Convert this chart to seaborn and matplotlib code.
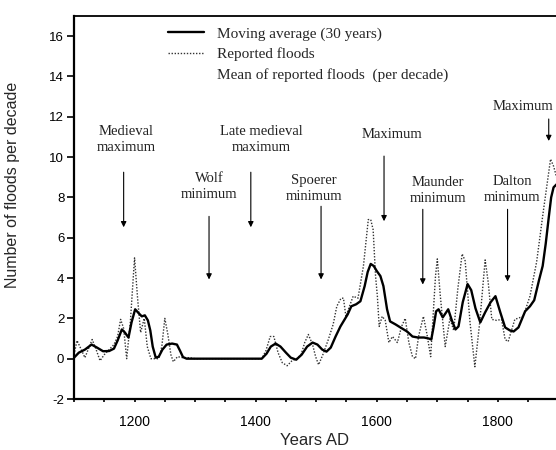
import matplotlib
matplotlib.use("Agg")
import matplotlib.pyplot as plt
from matplotlib.lines import Line2D
from matplotlib.ticker import MultipleLocator
import seaborn as sns

# 30-year moving average of flood counts
ma_years = [1100, 1108, 1118, 1129, 1138, 1148, 1158, 1166, 1172, 1179, 1184, 1190,
            1195, 1201, 1207, 1212, 1217, 1222, 1226, 1230, 1235, 1240, 1246, 1253,
            1262, 1270, 1275, 1280, 1286, 1300, 1350, 1410, 1418, 1425, 1433, 1441,
            1450, 1458, 1467, 1476, 1485, 1494, 1502, 1510, 1517, 1524, 1532, 1540,
            1546, 1552, 1558, 1566, 1573, 1580, 1585, 1590, 1595, 1600, 1606, 1611,
            1617, 1622, 1631, 1639, 1650, 1659, 1668, 1678, 1686, 1690, 1694, 1698,
            1702, 1709, 1718, 1724, 1730, 1735, 1742, 1750, 1756, 1763, 1771, 1779,
            1788, 1796, 1804, 1812, 1820, 1826, 1834, 1845, 1853, 1860, 1868, 1874,
            1879, 1884, 1888, 1892, 1897]
ma_values = [0.05, 0.3, 0.45, 0.7, 0.55, 0.37, 0.38, 0.5, 0.9, 1.45, 1.3, 1.05,
             1.8, 2.45, 2.25, 2.1, 2.15, 1.9, 1.4, 0.6, 0.05, 0.1, 0.45, 0.7,
             0.75, 0.7, 0.4, 0.08, 0.0, 0.0, 0.0, 0.0, 0.25, 0.6, 0.75, 0.6,
             0.3, 0.05, -0.05, 0.2, 0.6, 0.8, 0.7, 0.45, 0.35, 0.55, 1.1, 1.6,
             1.9, 2.2, 2.6, 2.7, 2.85, 3.6, 4.3, 4.7, 4.6, 4.35, 4.1, 3.6,
             2.45, 1.85, 1.7, 1.55, 1.35, 1.1, 1.05, 1.05, 1.0, 0.95, 1.6, 2.35,
             2.45, 2.05, 2.45, 1.9, 1.45, 1.6, 2.8, 3.7, 3.4, 2.5, 1.8, 2.3,
             2.8, 3.1, 2.3, 1.55, 1.4, 1.35, 1.55, 2.35, 2.6, 2.9, 3.9, 4.6,
             5.7, 7.0, 8.0, 8.5, 8.65]

# Reported floods per decade
rep_years = [1100, 1105, 1112, 1118, 1124, 1130, 1136, 1143, 1150, 1158, 1166, 1172,
             1177, 1182, 1187, 1193, 1200, 1205, 1210, 1216, 1221, 1227, 1240, 1245,
             1250, 1255, 1260, 1264, 1271, 1280, 1290, 1300, 1410, 1417, 1424, 1430,
             1437, 1444, 1452, 1460, 1468, 1475, 1481, 1487, 1494, 1499, 1504, 1511,
             1520, 1528, 1534, 1541, 1545, 1549, 1555, 1561, 1569, 1578, 1586, 1590,
             1594, 1598, 1601, 1604, 1609, 1614, 1620, 1626, 1634, 1641, 1647, 1653,
             1659, 1664, 1669, 1677, 1683, 1689, 1697, 1700, 1705, 1713, 1721, 1727,
             1734, 1741, 1746, 1754, 1762, 1770, 1779, 1784, 1790, 1798, 1806, 1812,
             1817, 1828, 1842, 1853, 1864, 1875, 1887, 1892, 1897]
rep_values = [0.2, 0.9, 0.45, 0.05, 0.5, 0.95, 0.5, -0.1, 0.2, 0.45, 0.7, 1.1,
              1.95, 1.5, 0.0, 1.8, 5.0, 3.0, 1.3, 2.0, 0.6, 0.0, 0.0, 0.6,
              2.0, 1.2, 0.2, -0.15, 0.1, 0.05, 0.05, 0.0, 0.0, 0.4, 1.1, 1.1,
              0.3, -0.2, -0.35, -0.1, 0.0, 0.2, 0.8, 1.2, 0.7, 0.1, -0.3, 0.2,
              0.95, 1.7, 2.6, 3.0, 3.0, 2.1, 2.6, 3.1, 3.0, 4.6, 6.9, 6.9,
              6.4, 4.1, 3.1, 1.6, 2.1, 1.9, 0.8, 1.1, 0.8, 1.6, 2.0, 0.8,
              0.1, 0.0, 1.1, 2.1, 1.2, 0.1, 4.1, 4.95, 3.1, 0.6, 2.0, 1.4,
              3.5, 5.2, 4.85, 1.8, -0.4, 1.8, 4.9, 3.8, 1.95, 1.9, 1.95, 0.95,
              0.85, 1.95, 2.1, 3.1, 4.8, 7.3, 9.9, 9.55, 9.0]

# Climate periods: label, text position, arrow start/end (year, value)
period_labels = ["Medieval\nmaximum", "Wolf\nminimum", "Late medieval\nmaximum",
                 "Spoerer\nminimum", "Maximum", "Maunder\nminimum",
                 "Dalton\nminimum", "Maximum"]
period_text_x = [1186, 1323, 1410, 1496, 1625, 1701, 1824, 1841]
period_text_y = [10.85, 8.56, 10.85, 8.43, 11.14, 8.33, 8.4, 12.49]
arrow_x = [1182, 1323, 1392, 1508, 1612, 1676, 1816, 1884]
arrow_top = [9.25, 7.06, 9.25, 7.56, 10.05, 7.41, 7.41, 11.89]
arrow_tip = [6.52, 3.93, 6.52, 3.93, 6.82, 3.68, 3.83, 10.8]

sns.set_theme(style="white")
plt.rcParams["font.family"] = ["Liberation Sans", "DejaVu Sans"]
plt.rcParams["axes.unicode_minus"] = False

fig = plt.figure(figsize=(5.56, 4.5), dpi=100)
ax = fig.add_axes([74 / 556, 51 / 450, 482 / 556, 383 / 450])

sns.lineplot(x=rep_years, y=rep_values, ax=ax, color="#333333", linewidth=1.0,
             linestyle=(0, (1, 1.2)), estimator=None)
sns.lineplot(x=ma_years, y=ma_values, ax=ax, color="black", linewidth=1.7,
             estimator=None)

ax.set_xlim(1100, 1896)
ax.set_ylim(-2, 17)
ax.set_xticks([1200, 1400, 1600, 1800])
ax.xaxis.set_minor_locator(MultipleLocator(50))
ax.set_yticks(range(-2, 17, 2))

ax.tick_params(axis="y", which="major", direction="out", length=5, width=1.2,
               labelsize=9.5, pad=2, left=True, colors="black")
ax.tick_params(axis="x", which="both", direction="out", length=2.5, width=1.2,
               labelsize=10, pad=9, bottom=True, colors="black")

for side in ["left", "bottom"]:
    ax.spines[side].set_linewidth(1.6)
    ax.spines[side].set_color("black")
ax.spines["top"].set_linewidth(1.3)
ax.spines["top"].set_color("black")
ax.spines["right"].set_visible(False)

ax.set_xlabel("Years AD", fontsize=12, labelpad=3)
ax.set_ylabel("Number of floods per decade", fontsize=11.5)
ax.yaxis.set_label_coords(-0.112, 0.56)

serif = ["Liberation Serif", "DejaVu Serif"]
for lab, tx, ty, axx, a0, a1 in zip(period_labels, period_text_x, period_text_y,
                                     arrow_x, arrow_top, arrow_tip):
    ax.text(tx, ty, lab, ha="center", va="center", fontsize=10.5,
            family=serif, color="#222222", linespacing=1.3)
    ax.annotate("", xy=(axx, a1), xytext=(axx, a0),
                arrowprops=dict(arrowstyle="-|>", color="black", lw=0.8,
                                mutation_scale=8, shrinkA=0, shrinkB=0))

handles = [Line2D([], [], color="black", linewidth=1.7),
           Line2D([], [], color="#333333", linewidth=1.0, linestyle=(0, (1, 1.2))),
           Line2D([], [], color="none")]
labels = ["Moving average (30 years)", "Reported floods",
          "Mean of reported floods  (per decade)"]
ax.legend(handles, labels, loc="upper left", bbox_to_anchor=(0.196, 0.972),
          frameon=False, prop={"family": serif, "size": 11}, handlelength=2.3,
          handletextpad=0.9, labelspacing=0.45, borderpad=0, borderaxespad=0)

fig.savefig("out.png", dpi=100)
